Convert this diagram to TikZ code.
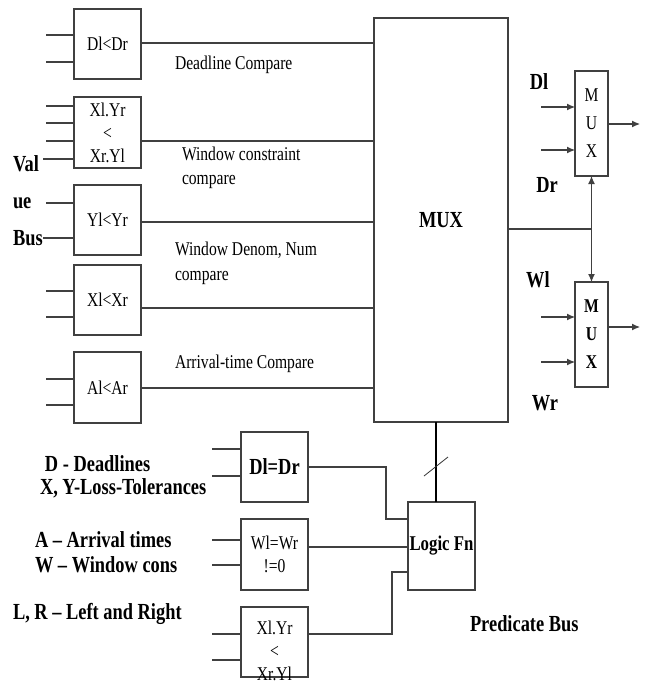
\documentclass[tikz,border=0pt]{standalone}
\usepackage{fontspec}
\setmainfont[FakeStretch=0.8]{Liberation Serif}
\usetikzlibrary{arrows.meta}
\newcommand\fsreg{\fontsize{19.5}{23}\selectfont}
\newcommand\fsbld{\fontsize{23}{27}\selectfont\bfseries}
\newcommand\fslogic{\fontsize{21}{25}\selectfont\bfseries}
\newcommand\fsmux{\fontsize{19.5}{28}\selectfont}
\begin{document}
\begin{tikzpicture}[x=1pt,y=-1pt,
  every node/.style={inner sep=0pt, outer sep=0pt},
  ln/.style={draw=black!75, line width=1.1pt},
  cmpbox/.style={ln, minimum width=67pt, minimum height=70pt, align=center, font=\fsreg},
  lab/.style={anchor=west, font=\fsreg},
  blab/.style={anchor=west, font=\fsbld},
  arr/.style={ln, -{Latex[length=8pt,width=7pt]}}
]
\useasboundingbox (0,0) rectangle (645,681);

% left compare boxes
\node[cmpbox] (b1) at (107.5,44) {Dl<Dr};
\node[cmpbox, minimum height=71pt] (b2) at (107.5,132.5) {Xl.Yr\\<\\Xr.Yl};
\node[cmpbox] (b3) at (107.5,220) {Yl<Yr};
\node[cmpbox] (b4) at (107.5,300) {Xl<Xr};
\node[cmpbox, minimum height=71pt] (b5) at (107.5,387.5) {Al<Ar};

% big mux
\node[ln, minimum width=134pt, minimum height=404pt, font=\fsbld] (mux) at (441,220) {MUX};

% small muxes
\node[ln, minimum width=33pt, minimum height=105pt, align=center, font=\fsmux] (m1) at (591.5,123.5) {M\\U\\X};
\node[ln, minimum width=33pt, minimum height=105pt, align=center, font=\fsmux\bfseries] (m2) at (591.5,334.5) {M\\U\\X};

% logic fn
\node[ln, minimum width=67pt, minimum height=88pt, font=\fslogic] (lf) at (441.5,546) {Logic Fn};

% lower predicate boxes
\node[cmpbox, font=\fsbld] (c1) at (274.5,467) {Dl=Dr};
\node[cmpbox, minimum height=71pt] (c2) at (274.5,554.5) {Wl=Wr\\!=0};
\node[cmpbox] (c3) at (274.5,642) {};
\node[font=\fsreg, align=center] (c3t) at (274.5,651) {Xl.Yr\\<\\Xr.Yl};

% inputs of left boxes
\draw[ln] (b1.west |- 0,35) -- ++(-28,0);
\draw[ln] (b1.west |- 0,62) -- ++(-28,0);
\draw[ln] (b2.west |- 0,106) -- ++(-28,0);
\draw[ln] (b2.west |- 0,123) -- ++(-28,0);
\draw[ln] (b2.west |- 0,141) -- ++(-28,0);
\draw[ln] (b2.west |- 0,159) -- ++(-31,0);
\draw[ln] (b3.west |- 0,203) -- ++(-28,0);
\draw[ln] (b3.west |- 0,238) -- ++(-31,0);
\draw[ln] (b4.west |- 0,291) -- ++(-28,0);
\draw[ln] (b4.west |- 0,317) -- ++(-28,0);
\draw[ln] (b5.west |- 0,379) -- ++(-28,0);
\draw[ln] (b5.west |- 0,405) -- ++(-28,0);

% outputs to mux
\draw[ln] (b1.east |- 0,43) -- (mux.west |- 0,43);
\draw[ln] (b2.east |- 0,141) -- (mux.west |- 0,141);
\draw[ln] (b3.east |- 0,222) -- (mux.west |- 0,222);
\draw[ln] (b4.east |- 0,308) -- (mux.west |- 0,308);
\draw[ln] (b5.east |- 0,388) -- (mux.west |- 0,388);

% mux select lines
\draw[arr] (mux.east |- 0,229) -| (m1.south);
\draw[arr] (mux.east |- 0,229) -| (m2.north);

% small mux inputs/outputs
\draw[arr] (m1.west |- 0,107) ++(-34,0) -- (m1.west |- 0,107);
\draw[arr] (m1.west |- 0,150) ++(-34,0) -- (m1.west |- 0,150);
\draw[arr] (m1.east |- 0,124) -- ++(32,0);
\draw[arr] (m2.west |- 0,317) ++(-34,0) -- (m2.west |- 0,317);
\draw[arr] (m2.west |- 0,362) ++(-34,0) -- (m2.west |- 0,362);
\draw[arr] (m2.east |- 0,327) -- ++(32,0);

% predicate bus
\draw[draw=black, line width=2pt] (mux.south -| 436,0) -- (lf.north -| 436,0);
\draw[black!80, line width=0.8pt] (424,476) -- (448,457);

% lower box inputs
\draw[ln] (c1.west |- 0,449) -- ++(-29,0);
\draw[ln] (c1.west |- 0,476) -- ++(-29,0);
\draw[ln] (c2.west |- 0,540) -- ++(-29,0);
\draw[ln] (c2.west |- 0,565) -- ++(-29,0);
\draw[ln] (c3.west |- 0,634) -- ++(-29,0);
\draw[ln] (c3.west |- 0,660) -- ++(-29,0);

% lower box outputs to logic fn
\draw[ln] (c1.east |- 0,467) -- (386,467) |- (lf.west |- 0,519);
\draw[ln] (c2.east |- 0,547) -- (lf.west |- 0,547);
\draw[ln] (c3.east |- 0,634) -- (392,634) |- (lf.west |- 0,572);

% connector labels
\node[lab] (l1) at (175,65) {Deadline Compare};
\node[lab] (l2) at (182,154) {Window constraint};
\node[lab] (l3) at (182,182) {compare};
\node[lab] (l4) at (175,250) {Window Denom, Num};
\node[lab] (l5) at (175,278) {compare};
\node[lab] (l6) at (175,364) {Arrival-time Compare};

% value bus
\node[blab] (v1) at (13,164) {Val};
\node[blab] (v2) at (13,203) {ue};
\node[blab] (v3) at (13,238) {Bus};

% mux input labels
\node[font=\fsbld] (dl) at (539,82) {Dl};
\node[font=\fsbld] (dr) at (547,185) {Dr};
\node[font=\fsbld] (wl) at (538,280) {Wl};
\node[font=\fsbld] (wr) at (545,403) {Wr};

% legend
\node[blab] (g1) at (45,464) {D - Deadlines};
\node[blab] (g2) at (40,488) {X, Y-Loss-Tolerances};
\node[blab] (g3) at (35,540) {A – Arrival times};
\node[blab] (g4) at (35,565) {W – Window cons};
\node[blab] (g5) at (13,614) {L, R – Left and Right};
\node[blab] (pb) at (470,624) {Predicate Bus};
\end{tikzpicture}
\end{document}
